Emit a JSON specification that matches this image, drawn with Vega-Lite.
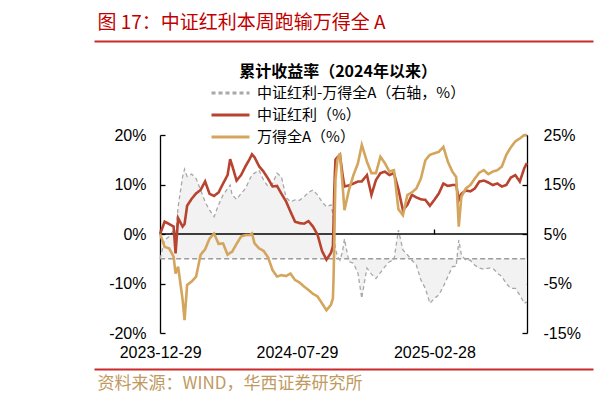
{
  "$schema": "https://vega.github.io/schema/vega-lite/v6.json",
  "width": 499,
  "height": 198,
  "autosize": "none",
  "padding": {"left": 94, "top": 135, "right": 4, "bottom": 70},
  "config": {
    "view": {"stroke": null},
    "font": "Liberation Sans",
    "axis": {"grid": false, "labelFlush": false, "labelOverlap": false, "labelBound": false}
  },
  "data": {
    "values": [
      {"date": "2023-12-29", "hl": 0, "qa": 0, "spread": 0},
      {"date": "2024-01-05", "hl": 2.5, "qa": -2.6, "spread": 3.8},
      {"date": "2024-01-12", "hl": 2.0, "qa": -2.9, "spread": 4.5},
      {"date": "2024-01-19", "hl": 1.5, "qa": -4.6, "spread": 5.8},
      {"date": "2024-01-22", "hl": -3.9, "qa": -8.0, "spread": 4.5},
      {"date": "2024-01-26", "hl": 3.2, "qa": -6.6, "spread": 10.5},
      {"date": "2024-02-02", "hl": 1.5, "qa": -13.3, "spread": 16.6},
      {"date": "2024-02-05", "hl": 2.0, "qa": -17.4, "spread": 18.1},
      {"date": "2024-02-09", "hl": 5.7, "qa": -10.3, "spread": 16.6},
      {"date": "2024-02-16", "hl": 7.1, "qa": -9.6, "spread": 17.1},
      {"date": "2024-02-23", "hl": 8.2, "qa": -8.6, "spread": 16.2},
      {"date": "2024-03-01", "hl": 8.9, "qa": -4.2, "spread": 13.9},
      {"date": "2024-03-08", "hl": 10.6, "qa": -3.1, "spread": 11.5},
      {"date": "2024-03-15", "hl": 8.1, "qa": -0.9, "spread": 9.8},
      {"date": "2024-03-22", "hl": 7.7, "qa": 0.1, "spread": 8.5},
      {"date": "2024-03-29", "hl": 8.4, "qa": -2.0, "spread": 10.9},
      {"date": "2024-04-05", "hl": 10.2, "qa": -1.9, "spread": 12.9},
      {"date": "2024-04-12", "hl": 11.9, "qa": -4.2, "spread": 14.2},
      {"date": "2024-04-16", "hl": 15.1, "qa": -3.8, "spread": 14.9},
      {"date": "2024-04-19", "hl": 13.9, "qa": -3.6, "spread": 12.9},
      {"date": "2024-04-26", "hl": 10.8, "qa": -2.0, "spread": 12.0},
      {"date": "2024-05-03", "hl": 11.9, "qa": -0.5, "spread": 13.2},
      {"date": "2024-05-10", "hl": 13.7, "qa": -0.2, "spread": 14.2},
      {"date": "2024-05-17", "hl": 15.3, "qa": -0.2, "spread": 16.2},
      {"date": "2024-05-20", "hl": 16.1, "qa": 0.1, "spread": 16.9},
      {"date": "2024-05-24", "hl": 15.5, "qa": -1.9, "spread": 17.3},
      {"date": "2024-05-31", "hl": 13.7, "qa": -2.9, "spread": 17.9},
      {"date": "2024-06-07", "hl": 12.6, "qa": -3.4, "spread": 15.9},
      {"date": "2024-06-14", "hl": 11.2, "qa": -4.7, "spread": 14.6},
      {"date": "2024-06-21", "hl": 9.6, "qa": -7.3, "spread": 15.2},
      {"date": "2024-06-28", "hl": 9.7, "qa": -8.6, "spread": 17.3},
      {"date": "2024-07-05", "hl": 8.1, "qa": -8.3, "spread": 16.5},
      {"date": "2024-07-12", "hl": 6.6, "qa": -8.5, "spread": 12.4},
      {"date": "2024-07-19", "hl": 4.5, "qa": -8.0, "spread": 11.5},
      {"date": "2024-07-26", "hl": 2.5, "qa": -9.3, "spread": 11.9},
      {"date": "2024-08-02", "hl": 2.2, "qa": -9.8, "spread": 11.8},
      {"date": "2024-08-09", "hl": 2.1, "qa": -10.6, "spread": 12.5},
      {"date": "2024-08-16", "hl": 2.6, "qa": -11.3, "spread": 13.4},
      {"date": "2024-08-23", "hl": 1.5, "qa": -12.1, "spread": 13.9},
      {"date": "2024-08-30", "hl": -0.1, "qa": -12.6, "spread": 12.9},
      {"date": "2024-09-06", "hl": -3.4, "qa": -14.0, "spread": 11.5},
      {"date": "2024-09-13", "hl": -5.2, "qa": -15.4, "spread": 10.5},
      {"date": "2024-09-20", "hl": -3.8, "qa": -14.3, "spread": 10.9},
      {"date": "2024-09-23", "hl": -2.5, "qa": -13.0, "spread": 9.0},
      {"date": "2024-09-24", "hl": 2.0, "qa": -9.0, "spread": 8.0},
      {"date": "2024-09-25", "hl": 8.0, "qa": -3.0, "spread": 6.0},
      {"date": "2024-09-26", "hl": 12.0, "qa": 5.0, "spread": 3.0},
      {"date": "2024-09-27", "hl": 15.0, "qa": 11.0, "spread": 2.0},
      {"date": "2024-09-30", "hl": 15.5, "qa": 15.0, "spread": 0.5},
      {"date": "2024-10-04", "hl": 16.0, "qa": 16.3, "spread": -0.3},
      {"date": "2024-10-08", "hl": 12.0, "qa": 10.0, "spread": 1.5},
      {"date": "2024-10-11", "hl": 9.6, "qa": 4.8, "spread": 4.0},
      {"date": "2024-10-18", "hl": 9.8, "qa": 8.9, "spread": -0.6},
      {"date": "2024-10-25", "hl": 10.2, "qa": 11.9, "spread": -0.9},
      {"date": "2024-11-01", "hl": 10.6, "qa": 14.3, "spread": -2.9},
      {"date": "2024-11-07", "hl": 10.6, "qa": 18.0, "spread": -8.0},
      {"date": "2024-11-08", "hl": 10.8, "qa": 17.6, "spread": -7.0},
      {"date": "2024-11-15", "hl": 11.9, "qa": 14.6, "spread": -1.9},
      {"date": "2024-11-22", "hl": 7.9, "qa": 12.3, "spread": -3.1},
      {"date": "2024-11-29", "hl": 10.9, "qa": 12.3, "spread": -4.0},
      {"date": "2024-12-06", "hl": 12.3, "qa": 15.6, "spread": -2.8},
      {"date": "2024-12-13", "hl": 12.6, "qa": 14.3, "spread": -1.6},
      {"date": "2024-12-20", "hl": 11.9, "qa": 12.6, "spread": -0.6},
      {"date": "2024-12-27", "hl": 12.3, "qa": 12.9, "spread": -0.3},
      {"date": "2025-01-03", "hl": 9.0, "qa": 5.0, "spread": 5.8},
      {"date": "2025-01-10", "hl": 4.8, "qa": 3.8, "spread": 1.8},
      {"date": "2025-01-17", "hl": 5.9, "qa": 7.9, "spread": 0.8},
      {"date": "2025-01-24", "hl": 7.9, "qa": 8.4, "spread": -0.3},
      {"date": "2025-01-31", "hl": 7.4, "qa": 9.2, "spread": -1.3},
      {"date": "2025-02-07", "hl": 7.0, "qa": 11.2, "spread": -4.3},
      {"date": "2025-02-14", "hl": 6.9, "qa": 14.9, "spread": -6.0},
      {"date": "2025-02-21", "hl": 5.7, "qa": 16.0, "spread": -9.0},
      {"date": "2025-02-28", "hl": 6.9, "qa": 16.3, "spread": -8.0},
      {"date": "2025-03-07", "hl": 8.2, "qa": 16.6, "spread": -7.3},
      {"date": "2025-03-14", "hl": 10.2, "qa": 17.6, "spread": -5.6},
      {"date": "2025-03-21", "hl": 9.7, "qa": 14.6, "spread": -3.6},
      {"date": "2025-03-28", "hl": 9.9, "qa": 12.6, "spread": -1.6},
      {"date": "2025-04-03", "hl": 9.9, "qa": 11.5, "spread": -1.5},
      {"date": "2025-04-07", "hl": 6.9, "qa": 1.5, "spread": 3.8},
      {"date": "2025-04-11", "hl": 8.1, "qa": 7.5, "spread": 0.8},
      {"date": "2025-04-18", "hl": 8.8, "qa": 9.2, "spread": -0.3},
      {"date": "2025-04-25", "hl": 8.6, "qa": 9.9, "spread": -0.3},
      {"date": "2025-05-02", "hl": 9.2, "qa": 11.2, "spread": -1.3},
      {"date": "2025-05-09", "hl": 10.6, "qa": 12.4, "spread": -1.9},
      {"date": "2025-05-16", "hl": 10.8, "qa": 12.9, "spread": -2.1},
      {"date": "2025-05-23", "hl": 10.4, "qa": 12.1, "spread": -1.9},
      {"date": "2025-05-30", "hl": 9.9, "qa": 12.6, "spread": -1.9},
      {"date": "2025-06-06", "hl": 10.2, "qa": 12.9, "spread": -2.9},
      {"date": "2025-06-13", "hl": 9.6, "qa": 13.6, "spread": -3.6},
      {"date": "2025-06-20", "hl": 9.9, "qa": 16.0, "spread": -5.0},
      {"date": "2025-06-27", "hl": 11.4, "qa": 17.5, "spread": -6.0},
      {"date": "2025-07-04", "hl": 11.9, "qa": 18.7, "spread": -6.0},
      {"date": "2025-07-11", "hl": 10.6, "qa": 19.3, "spread": -7.3},
      {"date": "2025-07-18", "hl": 13.3, "qa": 20.0, "spread": -9.0},
      {"date": "2025-07-22", "hl": 14.3, "qa": 20.0, "spread": -8.7}
    ]
  },
  "layer": [
    {
      "mark": {"type": "area", "color": "#f2f2f2", "opacity": 1},
      "encoding": {
        "x": {
          "field": "date", "type": "temporal",
          "scale": {"domain": [{"year": 2023, "month": 9, "date": 17}, {"year": 2025, "month": 11, "date": 2}]},
          "axis": {
            "orient": "top", "offset": 94, "domainColor": "#cc2a2a", "domainWidth": 2,
            "ticks": false, "labels": false,
            "title": "图 17：中证红利本周跑输万得全 A",
            "titleColor": "#c00000", "titleFont": "Noto Sans CJK SC", "titleFontSize": 19, "titleFontWeight": "normal",
            "titleAnchor": "start", "titleAlign": "left", "titleBaseline": "middle", "titleX": 3, "titleY": -19
          }
        },
        "y": {
          "field": "spread", "type": "quantitative",
          "scale": {"domain": [-15, 25], "nice": false, "zero": false},
          "axis": {
            "orient": "right", "offset": -66, "values": [-15, -5, 5, 15, 25],
            "labelExpr": "datum.value + '%'", "domainColor": "#000", "domainWidth": 1.3,
            "tickColor": "#000", "tickWidth": 1.3, "tickSize": -5, "labelPadding": 21,
            "labelFontSize": 16, "labelColor": "#000", "title": null
          }
        },
        "y2": {"datum": 0}
      }
    },
    {
      "data": {"values": [{"start": "2023-12-29", "end": "2025-07-22", "level": 0}]},
      "mark": {"type": "rule", "color": "#9c9c9c", "strokeDash": [5, 3], "strokeWidth": 1.3},
      "encoding": {
        "x": {"field": "start", "type": "temporal", "scale": {"domain": [{"year": 2023, "month": 9, "date": 17}, {"year": 2025, "month": 11, "date": 2}]}, "axis": null},
        "x2": {"field": "end"},
        "y": {"field": "level", "type": "quantitative", "scale": {"domain": [-15, 25], "nice": false, "zero": false}, "axis": null}
      }
    },
    {
      "transform": [{"fold": ["spread"], "as": ["series", "value"]}],
      "mark": {"type": "line", "strokeWidth": 1.3},
      "encoding": {
        "x": {"field": "date", "type": "temporal", "scale": {"domain": [{"year": 2023, "month": 9, "date": 17}, {"year": 2025, "month": 11, "date": 2}]}, "axis": null},
        "y": {"field": "value", "type": "quantitative", "scale": {"domain": [-15, 25], "nice": false, "zero": false}, "axis": null},
        "color": {
          "field": "series", "type": "nominal",
          "scale": {"domain": ["spread", "hl", "qa"], "range": ["#a8a8a8", "#b8432f", "#d4a55c"]},
          "legend": {
            "orient": "none", "legendX": 116, "legendY": -71,
            "title": "累计收益率（2024年以来）", "titleFont": "Noto Sans CJK SC", "titleFontSize": 16, "titleFontWeight": "bold",
            "titleAnchor": "middle", "titleColor": "#000", "titlePadding": 4, "titleLimit": 400,
            "labelFont": "Noto Sans CJK SC", "labelFontSize": 15, "labelColor": "#000", "labelOffset": 6, "labelLimit": 400,
            "symbolType": "stroke", "symbolSize": 1444, "symbolStrokeWidth": 3, "rowPadding": 4, "clipHeight": 18,
            "labelExpr": "datum.label == 'spread' ? '中证红利-万得全A（右轴，%）' : datum.label == 'hl' ? '中证红利（%）' : '万得全A（%）'"
          }
        },
        "strokeDash": {
          "field": "series", "type": "nominal",
          "scale": {"domain": ["spread", "hl", "qa"], "range": [[4, 3], [1, 0], [1, 0]]},
          "legend": {
            "orient": "none", "legendX": 116, "legendY": -71,
            "title": "累计收益率（2024年以来）", "titleFont": "Noto Sans CJK SC", "titleFontSize": 16, "titleFontWeight": "bold",
            "titleAnchor": "middle", "titleColor": "#000", "titlePadding": 4, "titleLimit": 400,
            "labelFont": "Noto Sans CJK SC", "labelFontSize": 15, "labelColor": "#000", "labelOffset": 6, "labelLimit": 400,
            "symbolType": "stroke", "symbolSize": 1444, "symbolStrokeWidth": 3, "rowPadding": 4, "clipHeight": 18,
            "labelExpr": "datum.label == 'spread' ? '中证红利-万得全A（右轴，%）' : datum.label == 'hl' ? '中证红利（%）' : '万得全A（%）'"
          }
        }
      }
    },
    {
      "data": {"values": [{"start": "2023-12-29", "end": "2025-07-22", "level": 0}]},
      "mark": {"type": "rule", "color": "#000", "strokeWidth": 1.6},
      "encoding": {
        "x": {
          "field": "start", "type": "temporal",
          "scale": {"domain": [{"year": 2023, "month": 9, "date": 17}, {"year": 2025, "month": 11, "date": 2}]},
          "axis": {
            "orient": "bottom", "offset": -99, "domain": false, "labels": false,
            "ticks": true, "tickSize": -5, "tickColor": "#000", "tickWidth": 1.3,
            "values": [{"year": 2023, "month": 12, "date": 29}, {"year": 2024, "month": 7, "date": 29}, {"year": 2025, "month": 2, "date": 28}],
            "title": null
          }
        },
        "x2": {"field": "end"},
        "y": {"field": "level", "type": "quantitative", "scale": {"domain": [-20, 20], "nice": false, "zero": false}, "axis": null}
      }
    },
    {
      "transform": [{"fold": ["hl", "qa"], "as": ["series", "value"]}],
      "mark": {"type": "line", "strokeWidth": 2.6},
      "encoding": {
        "x": {
          "field": "date", "type": "temporal",
          "scale": {"domain": [{"year": 2023, "month": 9, "date": 17}, {"year": 2025, "month": 11, "date": 2}]},
          "axis": {
            "orient": "bottom", "offset": 36, "domainColor": "#cc2a2a", "domainWidth": 2,
            "ticks": false, "format": "%Y-%m-%d",
            "values": [{"year": 2023, "month": 12, "date": 29}, {"year": 2024, "month": 7, "date": 29}, {"year": 2025, "month": 2, "date": 28}],
            "labelFontSize": 16, "labelColor": "#000", "labelPadding": -25,
            "title": "资料来源：WIND，华西证券研究所",
            "titleColor": "#bf9a5f", "titleFont": "Noto Sans CJK SC", "titleFontSize": 17, "titleFontWeight": "normal",
            "titleAnchor": "start", "titleAlign": "left", "titleBaseline": "middle", "titleX": 3, "titleY": 14
          }
        },
        "y": {
          "field": "value", "type": "quantitative",
          "scale": {"domain": [-20, 20], "nice": false, "zero": false},
          "axis": {
            "orient": "left", "offset": -66, "values": [-20, -10, 0, 10, 20],
            "labelExpr": "datum.value + '%'", "domainColor": "#000", "domainWidth": 1.3,
            "tickColor": "#000", "tickWidth": 1.3, "tickSize": -5, "labelPadding": 19,
            "labelFontSize": 16, "labelColor": "#000", "title": null
          }
        },
        "color": {"field": "series", "type": "nominal"},
        "strokeDash": {"field": "series", "type": "nominal"}
      }
    }
  ],
  "resolve": {
    "scale": {"y": "independent"},
    "axis": {"x": "independent", "y": "independent"}
  }
}
